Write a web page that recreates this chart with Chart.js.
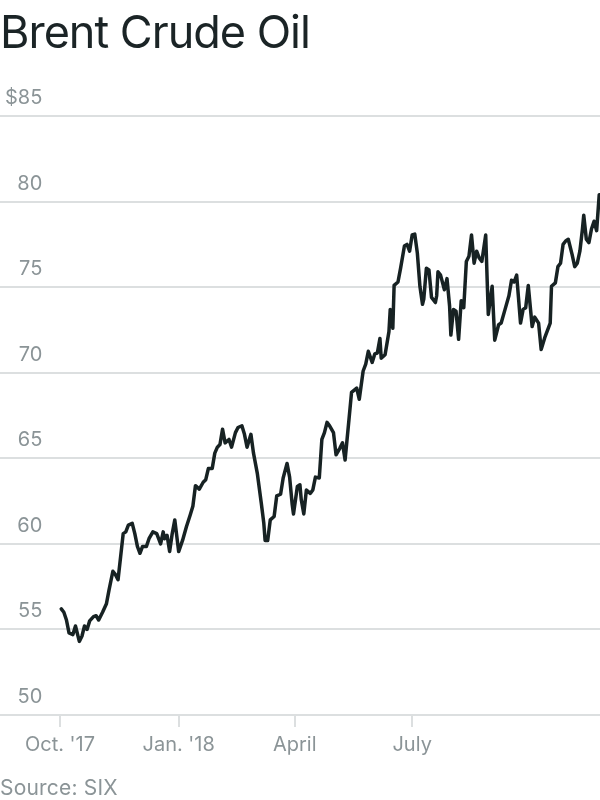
<!DOCTYPE html>
<html>
<head>
<meta charset="utf-8">
<script src="https://cdn.jsdelivr.net/npm/chart.js@4.4.1/dist/chart.umd.min.js"></script>
<style>
  html, body { margin: 0; padding: 0; background: #fff; }
  #wrap { position: relative; width: 600px; height: 800px; overflow: hidden; }
  #titulo { position: absolute; left: 0; top: 9px; font-family: Inter, sans-serif; font-size: 45px;
            line-height: 45px; color: #1b2426; letter-spacing: -1px; white-space: nowrap; }
  #fonte { position: absolute; left: 0; top: 777px; font-family: Inter, sans-serif; font-size: 21px;
           line-height: 21px; color: #8b9497; letter-spacing: 0.2px; white-space: nowrap; }
  #grafico { position: absolute; left: 0; top: 0; }
</style>
</head>
<body>
<div id="wrap">
  <canvas id="grafico" width="600" height="800"></canvas>
  <div id="titulo">Brent Crude Oil</div>
  <div id="fonte">Source: SIX</div>
</div>
<script>
// Dias contados a partir de 1 de outubro de 2017
const dias = [
  1, 3, 5, 7, 10, 12, 15, 17, 19, 21, 23, 26, 28, 30, 33, 36, 38, 41, 43, 45,
  47, 49, 51, 53, 56, 58, 60, 62, 64, 67, 69, 72, 75, 78, 80, 81, 83, 85, 87, 89,
  92, 95, 98, 101, 103, 105, 108, 111, 113, 115, 118, 120, 122, 124, 126, 128, 131, 133, 136, 138,
  141, 143, 145, 148, 150, 153, 156, 158, 159, 161, 163, 166, 168, 171, 173, 176, 178, 180, 181, 184,
  186, 187, 189, 191, 194, 196, 198, 201, 203, 205, 207, 209, 212, 214, 217, 219, 221, 224, 226, 230,
  232, 235, 237, 239, 242, 244, 246, 248, 249, 252, 255, 256, 258, 259, 262, 264, 267, 269, 271, 273,
  275, 277, 279, 281, 282, 284, 286, 288, 291, 292, 293, 295, 298, 300, 302, 303, 305, 307, 309, 311,
  313, 315, 317, 319, 321, 323, 325, 327, 330, 332, 335, 337, 340, 342, 345, 348, 350, 352, 354, 357,
  359, 361, 363, 366, 368, 371, 373, 376, 380, 381, 384, 386, 388, 390, 392, 394, 397, 399, 401, 403,
  405, 406, 408, 410, 412, 414, 416, 418
];
// Preço do Brent em dólares por barril
const precos = [
  56.2, 56.0, 55.55, 54.8, 54.7, 55.2, 54.3, 54.6, 55.2, 55.0, 55.5, 55.75, 55.8, 55.55, 56.0, 56.5, 57.3, 58.4, 58.2, 57.9,
  59.25, 60.6, 60.7, 61.1, 61.2, 60.6, 59.85, 59.45, 59.85, 59.85, 60.3, 60.7, 60.6, 60.0, 60.7, 60.3, 60.5, 59.55, 60.6, 61.4,
  59.55, 60.2, 61.0, 61.7, 62.2, 63.4, 63.2, 63.6, 63.75, 64.4, 64.4, 65.3, 65.65, 65.8, 66.7, 65.9, 66.1, 65.65, 66.5, 66.8,
  66.9, 66.4, 65.65, 66.4, 65.3, 64.1, 62.4, 61.2, 60.2, 60.2, 61.4, 61.6, 62.8, 62.9, 63.85, 64.7, 63.9, 62.3, 61.75, 63.35,
  63.45, 62.6, 61.75, 63.15, 62.95, 63.15, 63.9, 63.85, 66.1, 66.5, 67.1, 66.9, 66.5, 65.2, 65.6, 65.9, 64.9, 67.25, 68.85, 69.1,
  68.45, 70.1, 70.5, 71.25, 70.6, 71.1, 71.15, 72.0, 70.85, 71.05, 72.4, 73.7, 72.6, 75.1, 75.3, 76.1, 77.4, 77.5, 77.1, 78.05,
  78.1, 77.0, 75.05, 74.0, 74.3, 76.1, 76.0, 74.4, 74.1, 74.5, 75.9, 75.7, 74.85, 75.5, 73.9, 72.2, 73.7, 73.6, 71.95, 74.2,
  73.8, 76.5, 76.8, 78.05, 76.4, 77.1, 76.7, 76.5, 78.05, 73.4, 75.05, 71.9, 72.8, 72.9, 73.7, 74.5, 75.4, 75.3, 75.7, 72.9,
  73.7, 73.8, 75.1, 72.7, 73.25, 72.9, 71.35, 72.1, 72.9, 75.05, 75.25, 76.2, 76.4, 77.5, 77.7, 77.8, 76.9, 76.2, 76.4, 77.1,
  78.4, 79.2, 77.8, 77.6, 78.4, 78.85, 78.3, 80.4
];
// Marcas do eixo x (dias) e seus rótulos
const marcasX = [0, 92, 182, 273];
const rotulosX = ["Oct. '17", "Jan. '18", "April", "July"];
// Marcas do eixo y
const marcasY = [50, 55, 60, 65, 70, 75, 80, 85];

const pontos = dias.map((d, i) => ({ x: d, y: precos[i] }));

const ctx = document.getElementById('grafico').getContext('2d');
const meuGrafico = new Chart(ctx, {
  type: 'line',
  data: {
    datasets: [{
      data: pontos,
      borderColor: '#172223',
      borderWidth: 3.5,
      borderJoinStyle: 'round',
      borderCapStyle: 'round',
      pointRadius: 0,
      pointHoverRadius: 0,
      tension: 0,
      fill: false,
      clip: false
    }]
  },
  options: {
    responsive: false,
    animation: false,
    layout: { autoPadding: false, padding: { top: 116, bottom: 37, left: 0, right: 0 } },
    plugins: { legend: { display: false }, tooltip: { enabled: false } },
    scales: {
      x: {
        type: 'linear',
        min: -46.5,
        max: 418.6,
        afterBuildTicks: (eixo) => { eixo.ticks = marcasX.map(v => ({ value: v })); },
        ticks: {
          callback: (v) => rotulosX[marcasX.indexOf(v)],
          color: '#8b9497',
          font: { family: 'Inter', size: 20 },
          padding: 6,
          maxRotation: 0,
          autoSkip: false
        },
        grid: { drawOnChartArea: false, drawTicks: true, tickLength: 12, color: '#dcdfe0', lineWidth: 2 },
        border: { display: false }
      },
      y: {
        min: 50,
        max: 85,
        afterBuildTicks: (eixo) => { eixo.ticks = marcasY.map(v => ({ value: v })); },
        afterFit: (eixo) => { eixo.width = 0; },
        ticks: {
          mirror: true,
          crossAlign: 'far',
          padding: 5,
          labelOffset: -18,
          color: '#8b9497',
          font: { family: 'Inter', size: 20 },
          callback: (v) => v === 85 ? '$85' : String(v)
        },
        grid: { drawTicks: false, tickLength: 0, color: '#dcdfe0', lineWidth: 2 },
        border: { display: false }
      }
    }
  }
});
</script>
</body>
</html>
